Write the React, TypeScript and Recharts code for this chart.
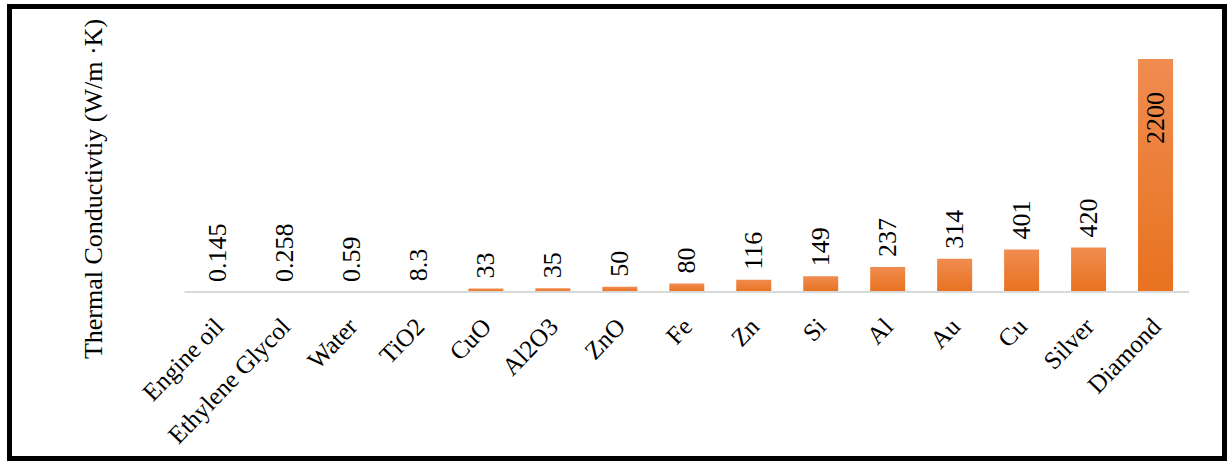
import React from "react";
import { BarChart, Bar, XAxis, YAxis, LabelList, Label } from "recharts";

const materials = [
  "Engine oil",
  "Ethylene Glycol",
  "Water",
  "TiO2",
  "CuO",
  "Al2O3",
  "ZnO",
  "Fe",
  "Zn",
  "Si",
  "Al",
  "Au",
  "Cu",
  "Silver",
  "Diamond",
];
const conductivity = [0.145, 0.258, 0.59, 8.3, 33, 35, 50, 80, 116, 149, 237, 314, 401, 420, 2200];
const valueText = ["0.145", "0.258", "0.59", "8.3", "33", "35", "50", "80", "116", "149", "237", "314", "401", "420", "2200"];

const chartData = materials.map((name, i) => ({ name, k: conductivity[i] }));

const FONT = "Liberation Serif, Times New Roman, serif";

// rotated category names, anchored at their top-right end
function CategoryTick(props: any) {
  const { x, y, payload } = props;
  const bx = x + 7;
  const by = y + 28;
  return (
    <text
      x={bx}
      y={by}
      transform={`rotate(-46, ${bx}, ${by})`}
      textAnchor="end"
      style={{ fontFamily: FONT }}
      fontSize={25}
      fill="#000"
    >
      {payload.value}
    </text>
  );
}

// vertical value labels: above the bar, or inside when the bar is tall
function ValueLabel(props: any) {
  const { x, y, width, index } = props;
  const cx = x + width / 2;
  const inside = y < 120;
  const ty = inside ? y + 33 : y - 10;
  return (
    <text
      x={cx}
      y={ty}
      transform={`rotate(-90, ${cx}, ${ty})`}
      textAnchor={inside ? "end" : "start"}
      dominantBaseline="central"
      style={{ fontFamily: FONT }}
      fontSize={26}
      fill="#000"
    >
      {valueText[index]}
    </text>
  );
}

function AxisTitle(props: any) {
  const { viewBox } = props;
  const tx = viewBox.x + 23;
  const ty = 189;
  return (
    <text
      x={tx}
      y={ty}
      transform={`rotate(-90, ${tx}, ${ty})`}
      textAnchor="middle"
      dominantBaseline="central"
      style={{ fontFamily: FONT }}
      fontSize={26}
      fill="#000"
    >
      Thermal Conductivtiy (W/m ·K)
    </text>
  );
}

export default function App() {
  return (
    <div style={{ position: "absolute", left: 0, top: 0, width: 1227, height: 461, background: "#fff" }}>
      <div
        style={{
          position: "absolute",
          left: 7,
          top: 4,
          width: 1220,
          height: 457,
          border: "5px solid #000",
          boxSizing: "border-box",
        }}
      />
      <div style={{ position: "absolute", left: 0, top: 0 }}>
        <BarChart
          width={1227}
          height={461}
          data={chartData}
          margin={{ top: 59, right: 38, bottom: 0, left: 70 }}
        >
          <defs>
            <linearGradient id="barFill" x1="0" y1="0" x2="0" y2="1">
              <stop offset="0%" stopColor="#F08C50" />
              <stop offset="100%" stopColor="#E8721F" />
            </linearGradient>
          </defs>
          <XAxis
            dataKey="name"
            interval={0}
            height={169}
            tickLine={false}
            axisLine={{ stroke: "#d9d9d9", strokeWidth: 2 }}
            tick={<CategoryTick />}
          />
          <YAxis
            domain={[0, 2200]}
            width={114.5}
            axisLine={false}
            tickLine={false}
            tick={false}
          >
            <Label content={<AxisTitle />} />
          </YAxis>
          <Bar dataKey="k" fill="url(#barFill)" barSize={35} isAnimationActive={false}>
            <LabelList dataKey="k" content={<ValueLabel />} />
          </Bar>
        </BarChart>
      </div>
    </div>
  );
}
